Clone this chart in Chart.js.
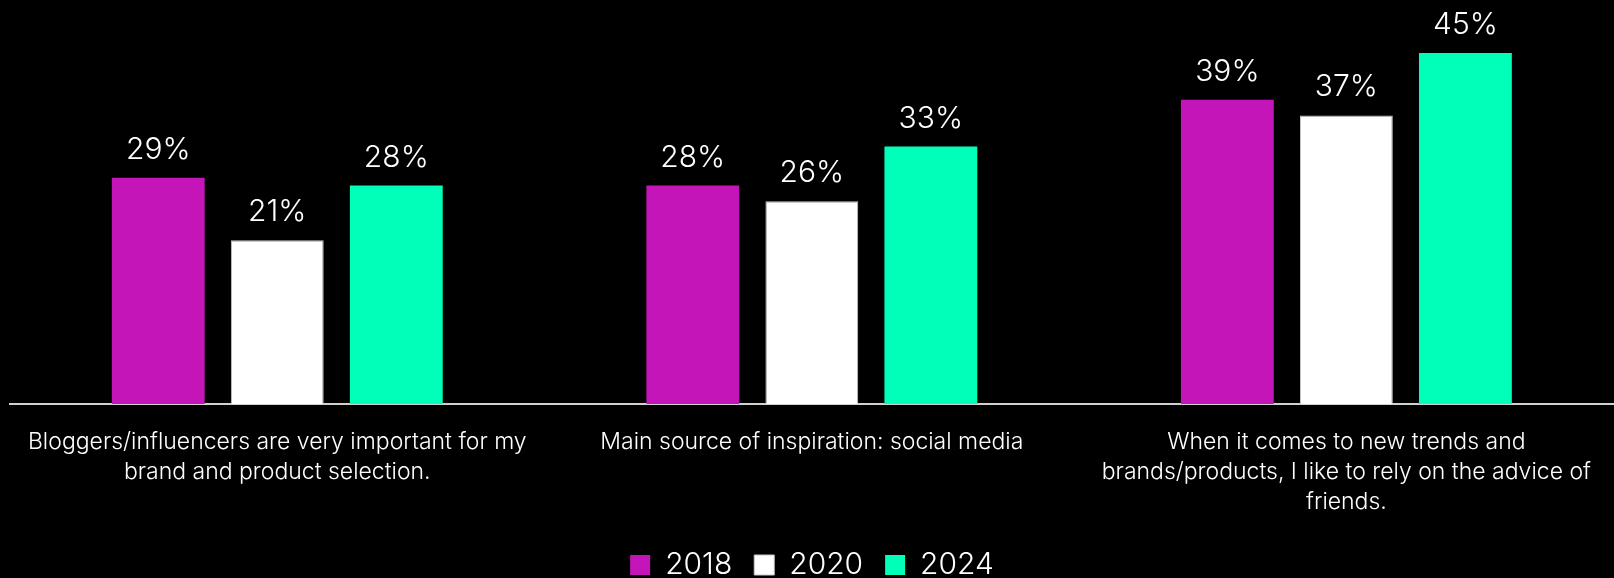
<!DOCTYPE html>
<html>
<head>
<meta charset="utf-8">
<title>Social influence on brand choice</title>
<script src="https://cdn.jsdelivr.net/npm/chart.js@4/dist/chart.umd.min.js"></script>
<style>
  html, body { margin: 0; padding: 0; background: #000; }
  canvas { display: block; }
</style>
</head>
<body>
<canvas id="chart" width="1614" height="578"></canvas>
<script>
// categories, one array of lines per group
var categories = [
  ["Bloggers/influencers are very important for my", "brand and product selection."],
  ["Main source of inspiration: social media"],
  ["When it comes to new trends and", "brands/products, I like to rely on the advice of", "friends."]
];
var years = ["2018", "2020", "2024"];
var values2018 = [29, 28, 39];
var values2020 = [21, 26, 37];
var values2024 = [28, 33, 45];
var colors = ["#c416b8", "#ffffff", "#00ffb8"];

var FONT = "Inter, 'Noto Sans', sans-serif";

// writes "NN%" above each bar
var valueLabels = {
  id: 'valueLabels',
  afterDatasetsDraw: function (chart) {
    var ctx = chart.ctx;
    ctx.save();
    ctx.font = '300 30px ' + FONT;
    ctx.fillStyle = '#ffffff';
    ctx.textAlign = 'center';
    ctx.textBaseline = 'alphabetic';
    chart.data.datasets.forEach(function (ds, i) {
      chart.getDatasetMeta(i).data.forEach(function (bar, j) {
        ctx.fillText(ds.data[j] + '%', bar.x, bar.y - 19);
      });
    });
    ctx.restore();
  }
};

new Chart(document.getElementById('chart'), {
  type: 'bar',
  data: {
    labels: categories,
    datasets: [
      { label: years[0], data: values2018, backgroundColor: colors[0] },
      { label: years[1], data: values2020, backgroundColor: colors[1], borderColor: '#c8c8c8', borderWidth: 1 },
      { label: years[2], data: values2024, backgroundColor: colors[2] }
    ]
  },
  options: {
    responsive: false,
    animation: false,
    categoryPercentage: 0.668,
    barPercentage: 0.78,
    layout: { padding: { left: 10, right: 0, top: 14, bottom: -12 } },
    scales: {
      x: {
        grid: { display: false, drawTicks: false },
        border: { color: '#d0d0d0', width: 2 },
        ticks: {
          color: '#ffffff',
          padding: 23,
          maxRotation: 0,
          autoSkip: false,
          font: { family: FONT, size: 23, weight: 300, lineHeight: 1.3 }
        },
        // fixed band for the wrapped category names
        afterFit: function (scale) { scale.height = 124; }
      },
      y: {
        display: false,
        min: 0,
        max: 50
      }
    },
    plugins: {
      legend: {
        position: 'bottom',
        labels: {
          color: '#ffffff',
          boxWidth: 20,
          boxHeight: 20,
          padding: 22,
          font: { family: FONT, size: 30, weight: 300 }
        }
      },
      tooltip: { enabled: false }
    }
  },
  plugins: [valueLabels]
});
</script>
</body>
</html>
